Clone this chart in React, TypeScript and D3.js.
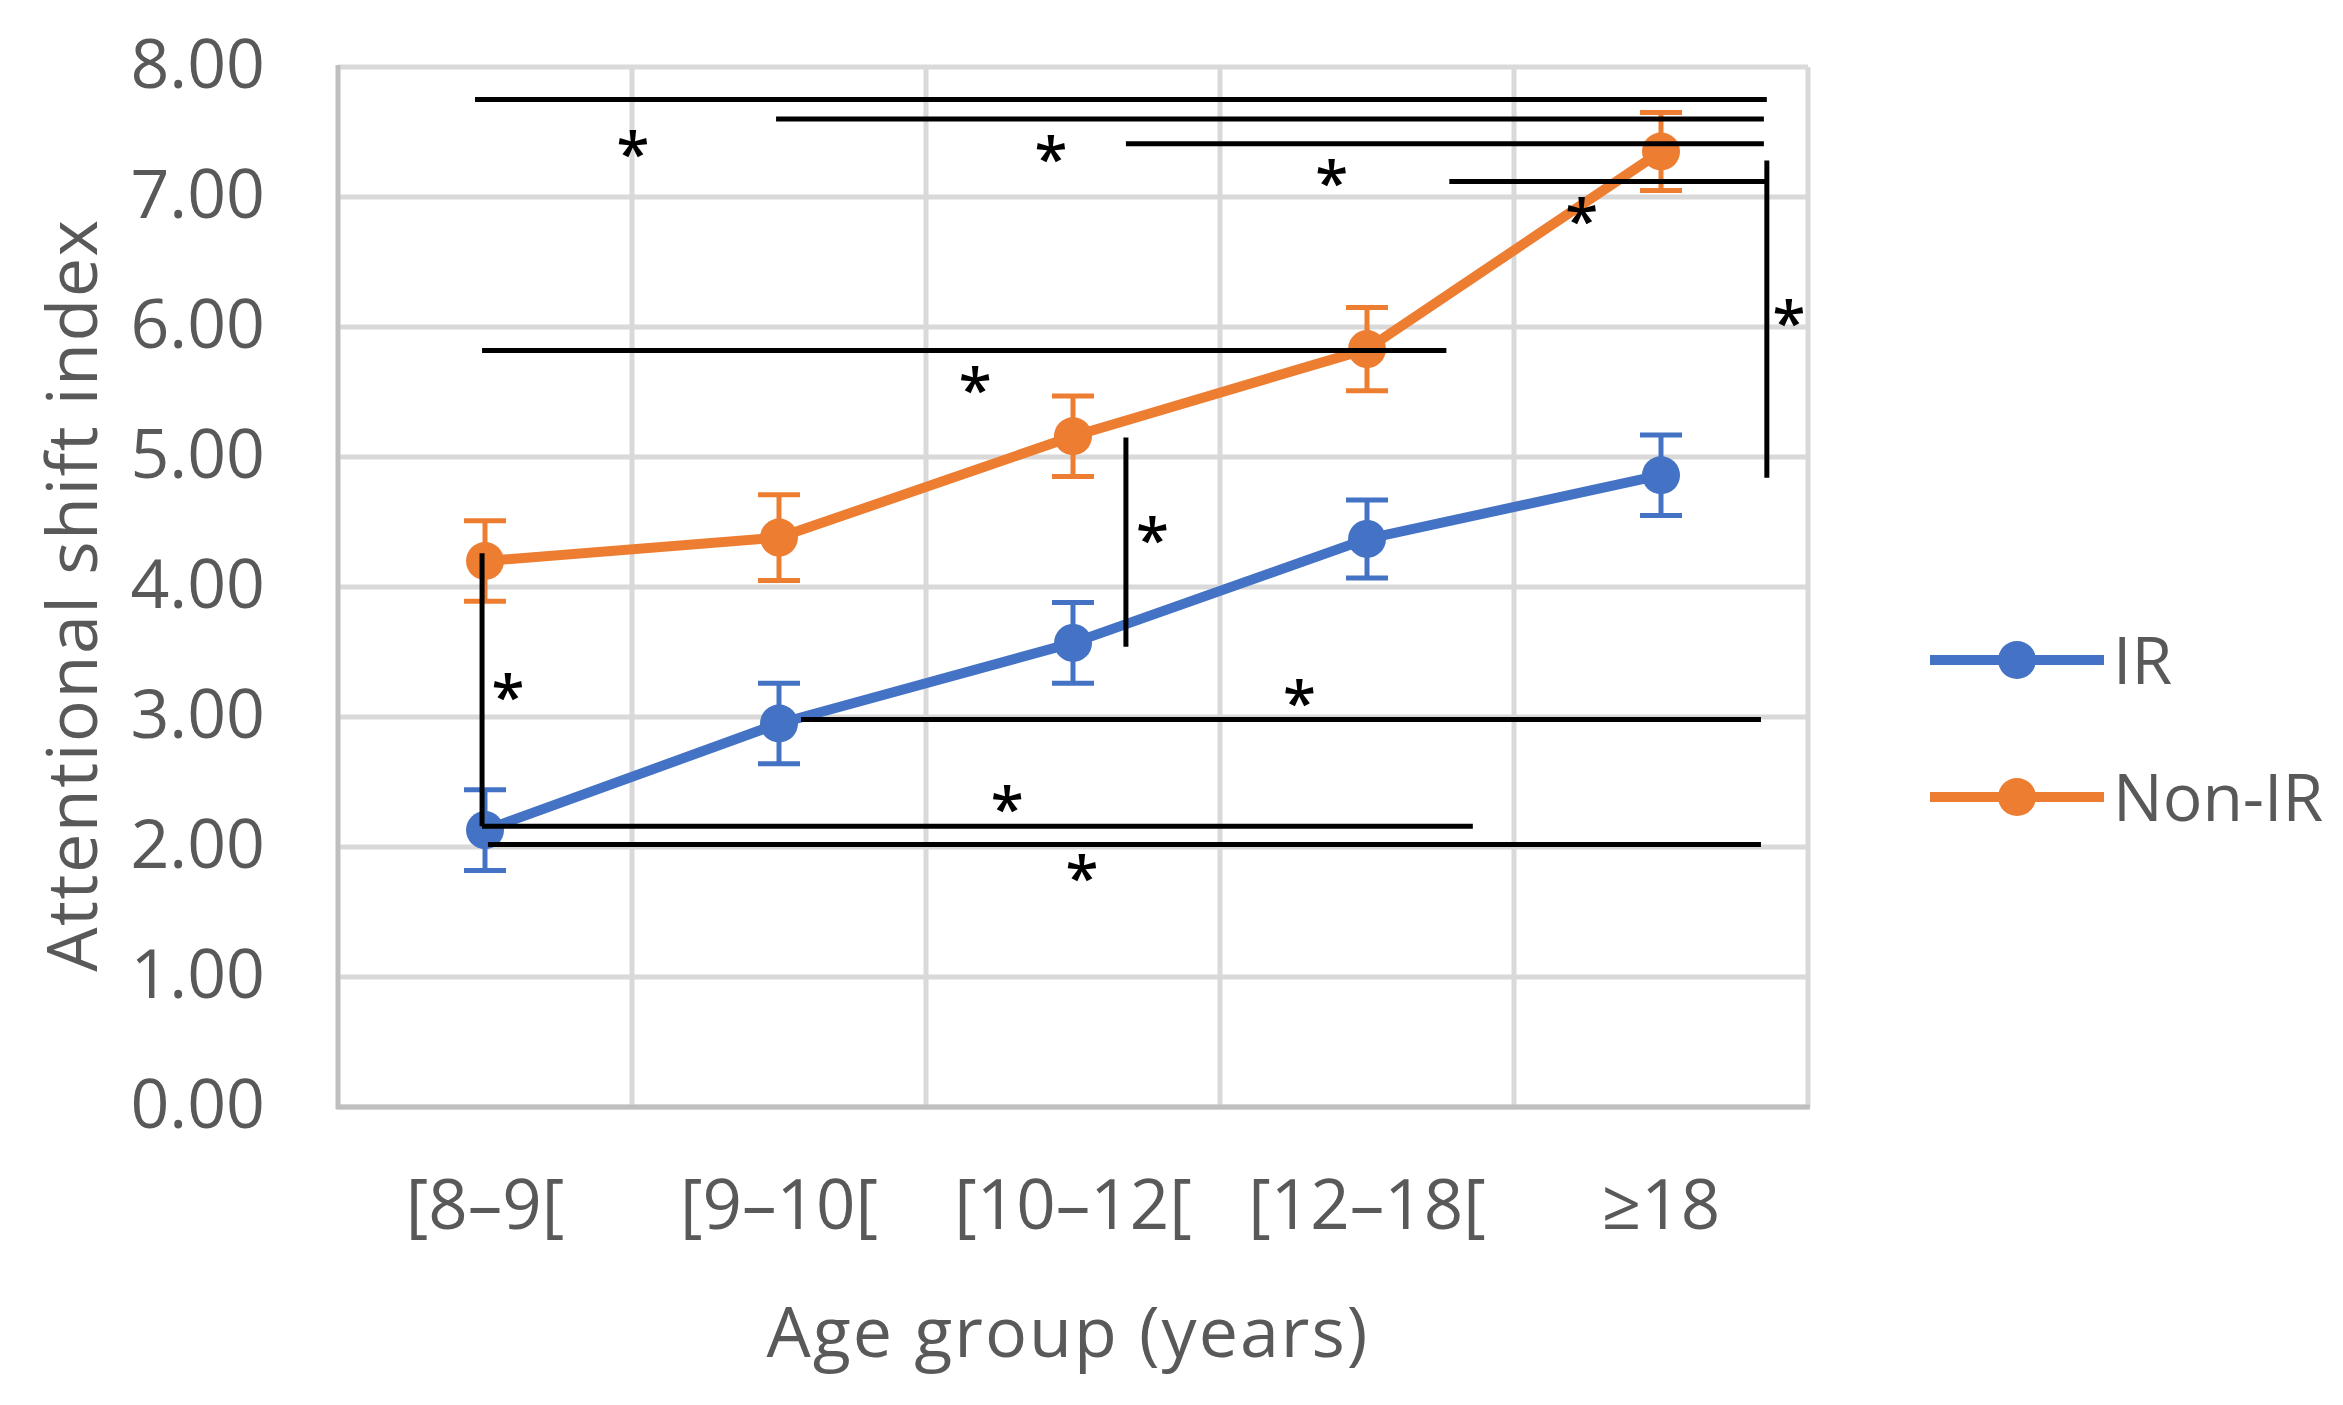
import React from "react";
import * as d3 from "d3";

const categories = ["[8–9[", "[9–10[", "[10–12[", "[12–18[", "≥18"];
const irMean = [2.13, 2.95, 3.57, 4.37, 4.86];
const irErr = [0.31, 0.31, 0.31, 0.3, 0.31];
const nonIrMean = [4.2, 4.38, 5.16, 5.83, 7.35];
const nonIrErr = [0.31, 0.33, 0.31, 0.32, 0.3];
const yTicks = [0, 1, 2, 3, 4, 5, 6, 7, 8];
const seriesNames = ["IR", "Non-IR"];

// significance brackets in (category index, value) units
const hBars = [
  { x1: -0.034, x2: 4.36, y: 7.75 },
  { x1: 0.99, x2: 4.35, y: 7.6 },
  { x1: 2.18, x2: 4.35, y: 7.41 },
  { x1: 3.28, x2: 4.36, y: 7.12 },
  { x1: -0.01, x2: 3.27, y: 5.82 },
  { x1: 1.075, x2: 4.34, y: 2.98 },
  { x1: -0.01, x2: 3.36, y: 2.16 },
  { x1: 0.01, x2: 4.34, y: 2.02 },
];
const vBars = [
  { x: 4.36, y1: 7.28, y2: 4.84 },
  { x: 2.18, y1: 5.15, y2: 3.54 },
  { x: -0.01, y1: 4.26, y2: 2.16 },
];
const stars = [
  { x: 0.503, y: 7.45 },
  { x: 1.925, y: 7.41 },
  { x: 2.88, y: 7.22 },
  { x: 3.73, y: 6.93 },
  { x: 4.435, y: 6.15 },
  { x: 1.667, y: 5.63 },
  { x: 2.27, y: 4.48 },
  { x: 0.078, y: 3.27 },
  { x: 2.77, y: 3.22 },
  { x: 1.776, y: 2.41 },
  { x: 2.03, y: 1.88 },
];

const W = 2343;
const H = 1405;
const L = 338, R = 1808, T = 67, B = 1107;
const BLUE = "#4472C4";
const ORANGE = "#ED7D31";
const GRID = "#D9D9D9";
const TXT = "#595959";
const FONT = "'Open Sans', 'Noto Sans', sans-serif";

export default function App() {
  const x = d3.scaleBand<string>().domain(categories).range([L, R]).padding(0);
  const bw = x.bandwidth();
  const xi = d3.scaleLinear().domain([0, categories.length - 1]).range([L + bw / 2, R - bw / 2]);
  const y = d3.scaleLinear().domain([0, 8]).range([B, T]);
  const line = d3.line<number>().x((_, i) => xi(i)).y((d) => y(d));

  const series = [
    { name: seriesNames[0], mean: irMean, err: irErr, color: BLUE },
    { name: seriesNames[1], mean: nonIrMean, err: nonIrErr, color: ORANGE },
  ];

  return (
    <svg width={W} height={H} style={{ position: "absolute", left: 0, top: 0, background: "#fff" }}>
      <rect x={0} y={0} width={W} height={H} fill="#fff" />
      {/* horizontal grid */}
      {yTicks.map((t) => (
        <line key={"h" + t} x1={L} x2={R} y1={y(t)} y2={y(t)} stroke={GRID} strokeWidth={5} />
      ))}
      {/* vertical grid at band boundaries */}
      {categories.map((c, i) => (
        <line key={"v" + i} x1={x(c)! + bw} x2={x(c)! + bw} y1={T} y2={B} stroke={GRID} strokeWidth={5} />
      ))}
      {/* axes */}
      <line x1={L} x2={L} y1={T - 2} y2={B + 2} stroke="#BFBFBF" strokeWidth={5} />
      <line x1={L - 2} x2={R + 2} y1={B} y2={B} stroke="#BFBFBF" strokeWidth={5} />

      {/* y tick labels */}
      {yTicks.map((t) => (
        <text key={"yl" + t} x={265} y={y(t) - 6} textAnchor="end" dominantBaseline="central"
          fontFamily={FONT} fontSize={68} fill={TXT}>{d3.format(".2f")(t)}</text>
      ))}
      {/* x labels */}
      {categories.map((c, i) => (
        <text key={"xl" + i} x={xi(i)} y={1202} textAnchor="middle" dominantBaseline="central"
          fontFamily={FONT} fontSize={69} fill={TXT}>{c}</text>
      ))}
      {/* axis titles */}
      <text x={1068} y={1330} textAnchor="middle" dominantBaseline="central" fontFamily={FONT} fontSize={70}
        letterSpacing={2} fill={TXT}>
        Age group (years)
      </text>
      <text transform={`translate(70, ${(T + B) / 2 + 8}) rotate(-90)`} textAnchor="middle" dominantBaseline="central"
        fontFamily={FONT} fontSize={70} letterSpacing={1.5} fill={TXT}>
        Attentional shift index
      </text>

      {/* series */}
      {series.map((s) => (
        <g key={s.name}>
          <path d={line(s.mean)!} fill="none" stroke={s.color} strokeWidth={10} strokeLinejoin="round" />
          {s.mean.map((m, i) => (
            <g key={i} stroke={s.color} strokeWidth={5}>
              <line x1={xi(i)} x2={xi(i)} y1={y(m + s.err[i])} y2={y(m - s.err[i])} />
              <line x1={xi(i) - 21} x2={xi(i) + 21} y1={y(m + s.err[i])} y2={y(m + s.err[i])} />
              <line x1={xi(i) - 21} x2={xi(i) + 21} y1={y(m - s.err[i])} y2={y(m - s.err[i])} />
            </g>
          ))}
          {s.mean.map((m, i) => (
            <circle key={"c" + i} cx={xi(i)} cy={y(m)} r={19} fill={s.color} />
          ))}
        </g>
      ))}

      {/* significance bars */}
      {hBars.map((b, i) => (
        <line key={"hb" + i} x1={xi(b.x1)} x2={xi(b.x2)} y1={y(b.y)} y2={y(b.y)} stroke="#000" strokeWidth={5} />
      ))}
      {vBars.map((b, i) => (
        <line key={"vb" + i} x1={xi(b.x)} x2={xi(b.x)} y1={y(b.y1)} y2={y(b.y2)} stroke="#000" strokeWidth={5} />
      ))}
      {stars.map((s, i) => (
        <text key={"s" + i} x={xi(s.x)} y={y(s.y) + 36} textAnchor="middle" fontFamily={FONT}
          fontWeight={600} fontSize={60} fill="#000">*</text>
      ))}

      {/* legend */}
      {series.map((s, i) => {
        const ly = 660 + i * 137;
        return (
          <g key={"lg" + i}>
            <line x1={1930} x2={2104} y1={ly} y2={ly} stroke={s.color} strokeWidth={10} />
            <circle cx={2017} cy={ly} r={19} fill={s.color} />
            <text x={2113} y={ly - 2} dominantBaseline="central" fontFamily={FONT} fontSize={66} fill={TXT}>{s.name}</text>
          </g>
        );
      })}
    </svg>
  );
}
